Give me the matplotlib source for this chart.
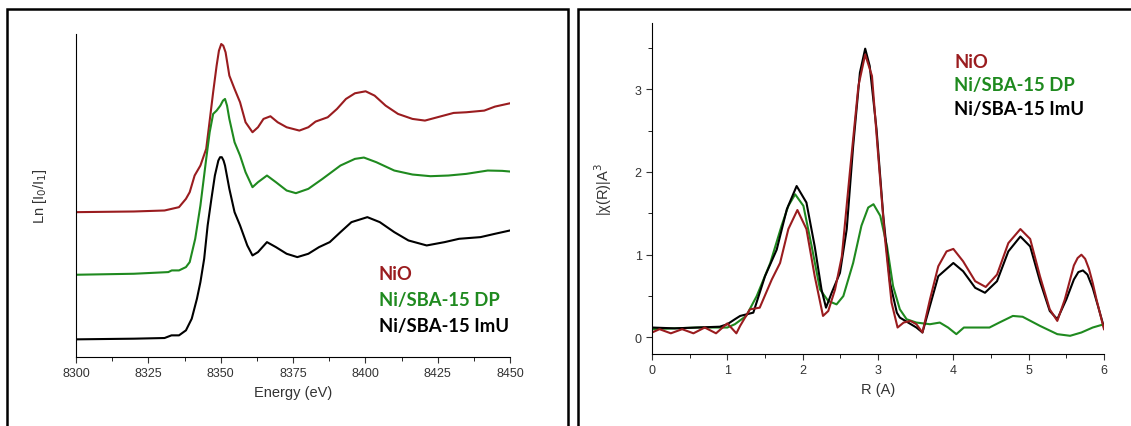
import matplotlib.pyplot as plt
from matplotlib.patches import Rectangle
from matplotlib.ticker import MultipleLocator

# XANES (left panel), arbitrary units
e_nio = [8300, 8320, 8330.6, 8335.6, 8338, 8339.3, 8341, 8343, 8345, 8346, 8347.4,
         8348.6, 8349.4, 8350.2, 8350.9, 8351.7, 8353, 8354.8, 8356.7, 8358.6, 8361,
         8362.9, 8364.8, 8367.2, 8369.7, 8372.8, 8377.2, 8380.3, 8382.8, 8387, 8390.2,
         8393.3, 8396.4, 8400.1, 8403.2, 8407, 8411.3, 8416.3, 8420.6, 8424.9, 8430.5,
         8434.9, 8441.1, 8444.8, 8450]
mu_nio = [4.35, 4.37, 4.40, 4.50, 4.75, 4.95, 5.45, 5.75, 6.25, 6.95, 7.95,
          8.75, 9.20, 9.40, 9.35, 9.15, 8.45, 8.05, 7.65, 7.05, 6.75,
          6.90, 7.15, 7.23, 7.05, 6.90, 6.80, 6.90, 7.07, 7.20, 7.45,
          7.75, 7.92, 7.98, 7.85, 7.55, 7.30, 7.15, 7.10, 7.20, 7.33,
          7.35, 7.40, 7.52, 7.62]

e_dp = [8300, 8320, 8331.9, 8333.1, 8335.6, 8338, 8339.3, 8341.2, 8343, 8345, 8346.2,
        8347.4, 8348.6, 8349.9, 8350.8, 8351.5, 8352.2, 8353, 8354.8, 8356.7, 8358.6,
        8361, 8362.9, 8366, 8369.1, 8372.8, 8376, 8380.3, 8385.2, 8391.4, 8396.4,
        8399.5, 8403.8, 8410, 8416.3, 8422.5, 8428.7, 8434.9, 8442.3, 8447.3, 8450]
mu_dp = [2.47, 2.50, 2.55, 2.60, 2.60, 2.70, 2.85, 3.55, 4.55, 5.95, 6.75,
         7.30, 7.40, 7.55, 7.70, 7.75, 7.55, 7.15, 6.45, 6.05, 5.55,
         5.10, 5.25, 5.45, 5.25, 5.00, 4.92, 5.05, 5.35, 5.75, 5.95,
         5.99, 5.85, 5.60, 5.48, 5.43, 5.45, 5.50, 5.60, 5.59, 5.57]

e_imu = [8300, 8320, 8330.6, 8333, 8335.6, 8338, 8340, 8341.8, 8343, 8344.3, 8345.5,
         8346.8, 8348, 8349.2, 8349.8, 8350.4, 8351, 8351.5, 8353, 8354.8, 8356.7,
         8359.2, 8361, 8362.9, 8366, 8369.1, 8372.8, 8376.5, 8380.3, 8384, 8387.7,
         8391.4, 8395.2, 8400.7, 8405, 8410, 8414.9, 8421.2, 8427.4, 8432.4, 8439.8,
         8444.8, 8450]
mu_imu = [0.53, 0.55, 0.57, 0.65, 0.65, 0.80, 1.15, 1.75, 2.25, 2.95, 3.95,
          4.75, 5.45, 5.90, 6.00, 6.00, 5.90, 5.75, 5.05, 4.35, 3.95,
          3.35, 3.05, 3.15, 3.45, 3.30, 3.10, 3.00, 3.10, 3.30, 3.45,
          3.75, 4.05, 4.20, 4.05, 3.75, 3.50, 3.35, 3.45, 3.55, 3.60,
          3.70, 3.80]

# Fourier transform (right panel)
r_nio = [0, 0.1, 0.25, 0.4, 0.55, 0.7, 0.85, 1.0, 1.12, 1.17, 1.30, 1.43, 1.59,
         1.70, 1.81, 1.93, 2.05, 2.16, 2.27, 2.34, 2.43, 2.52, 2.63, 2.74, 2.83,
         2.92, 3.00, 3.09, 3.18, 3.26, 3.34, 3.43, 3.51, 3.59, 3.69, 3.80, 3.91,
         4.00, 4.13, 4.29, 4.43, 4.58, 4.73, 4.89, 5.02, 5.15, 5.28, 5.38, 5.48,
         5.6, 5.65, 5.7, 5.75, 5.8, 5.85, 5.9, 5.95, 6.0]
ft_nio = [0.06, 0.10, 0.05, 0.10, 0.05, 0.12, 0.05, 0.17, 0.05, 0.14, 0.34, 0.36,
          0.70, 0.90, 1.31, 1.54, 1.31, 0.74, 0.26, 0.32, 0.58, 0.98, 2.03, 3.04,
          3.42, 3.16, 2.23, 1.22, 0.42, 0.12, 0.18, 0.20, 0.16, 0.06, 0.46, 0.86,
          1.04, 1.07, 0.92, 0.68, 0.61, 0.76, 1.14, 1.31, 1.19, 0.74, 0.34, 0.20,
          0.46, 0.87, 0.96, 1.00, 0.95, 0.83, 0.66, 0.46, 0.28, 0.10]

r_imu = [0, 0.3, 0.6, 0.9, 1.0, 1.1, 1.17, 1.345, 1.50, 1.655, 1.79, 1.92, 2.05,
         2.16, 2.25, 2.31, 2.385, 2.495, 2.585, 2.67, 2.76, 2.83, 2.89, 2.98, 3.07,
         3.16, 3.25, 3.29, 3.40, 3.51, 3.59, 3.80, 4.00, 4.13, 4.29, 4.42, 4.58,
         4.73, 4.89, 5.02, 5.15, 5.28, 5.38, 5.5, 5.6, 5.66, 5.72, 5.78, 5.85,
         5.92, 6.0]
ft_imu = [0.12, 0.11, 0.12, 0.13, 0.16, 0.22, 0.26, 0.30, 0.74, 1.06, 1.55, 1.83,
          1.63, 1.10, 0.58, 0.36, 0.54, 0.78, 1.31, 2.31, 3.20, 3.49, 3.28, 2.52,
          1.47, 0.66, 0.30, 0.24, 0.18, 0.12, 0.06, 0.74, 0.90, 0.80, 0.60, 0.54,
          0.68, 1.04, 1.22, 1.10, 0.68, 0.32, 0.22, 0.46, 0.70, 0.79, 0.81, 0.76,
          0.60, 0.38, 0.12]

r_dp = [0, 0.3, 0.6, 1.0, 1.1, 1.25, 1.39, 1.57, 1.72, 1.81, 1.90, 2.01, 2.12,
        2.23, 2.34, 2.45, 2.54, 2.67, 2.78, 2.87, 2.94, 3.03, 3.12, 3.20, 3.29,
        3.38, 3.51, 3.69, 3.82, 3.93, 4.04, 4.14, 4.30, 4.48, 4.61, 4.79, 4.92,
        5.15, 5.38, 5.55, 5.7, 5.85, 6.0]
ft_dp = [0.10, 0.11, 0.12, 0.12, 0.16, 0.26, 0.50, 0.90, 1.35, 1.59, 1.73, 1.59,
         1.10, 0.58, 0.44, 0.40, 0.50, 0.90, 1.35, 1.57, 1.61, 1.47, 1.10, 0.62,
         0.34, 0.22, 0.18, 0.16, 0.18, 0.12, 0.04, 0.12, 0.12, 0.12, 0.18, 0.26,
         0.25, 0.14, 0.04, 0.02, 0.06, 0.12, 0.16]

labels = ['NiO', 'Ni/SBA-15 DP', 'Ni/SBA-15 ImU']
colors = ['#9a1c1f', '#1f8a1f', '#000000']

plt.rcParams['font.family'] = ['Liberation Sans', 'DejaVu Sans']

fig = plt.figure(figsize=(11.31, 4.27), dpi=100)

# panel frames
fig.patches.append(Rectangle((7 / 1131, -0.1), (568 - 7) / 1131, 1.1 - 10 / 427,
                             transform=fig.transFigure, fill=False,
                             edgecolor='black', linewidth=1.8))
fig.patches.append(Rectangle((578 / 1131, -0.1), 0.6, 1.1 - 10 / 427,
                             transform=fig.transFigure, fill=False,
                             edgecolor='black', linewidth=1.8))

ax1 = fig.add_axes([76 / 1131, 0.1616, 434 / 1131, 0.7564])
ax1.plot(e_nio, mu_nio, color=colors[0], lw=1.5)
ax1.plot(e_dp, mu_dp, color=colors[1], lw=1.5)
ax1.plot(e_imu, mu_imu, color=colors[2], lw=1.5)
ax1.set_xlim(8300, 8450)
ax1.set_ylim(0, 9.7)
ax1.spines['top'].set_visible(False)
ax1.spines['right'].set_visible(False)
ax1.set_yticks([])
ax1.xaxis.set_major_locator(MultipleLocator(25))
ax1.xaxis.set_minor_locator(MultipleLocator(12.5))
ax1.tick_params(axis='x', which='major', length=4, labelsize=9, colors='#333333')
ax1.tick_params(axis='x', which='minor', length=3)
ax1.set_xlabel('Energy (eV)', fontsize=10.5, color='#333333')
ax1.set_ylabel('Ln [I$_0$/I$_1$]', fontsize=10.5, color='#333333')
ax1.yaxis.set_label_coords(-0.062, 0.5)
for i, (lab, c) in enumerate(zip(labels, colors)):
    ax1.text(379 / 1131, (427 - 275 - 26 * i) / 427, lab, color=c,
             transform=fig.transFigure, fontsize=13.3, fontweight='bold',
             family=['Lato', 'DejaVu Sans'], va='center')

ax2 = fig.add_axes([652 / 1131, 0.1686, 452 / 1131, 0.7752])
ax2.plot(r_dp, ft_dp, color=colors[1], lw=1.5)
ax2.plot(r_imu, ft_imu, color=colors[2], lw=1.5)
ax2.plot(r_nio, ft_nio, color=colors[0], lw=1.5)
ax2.set_xlim(0, 6)
ax2.set_ylim(-0.2, 3.8)
ax2.spines['top'].set_visible(False)
ax2.spines['right'].set_visible(False)
ax2.xaxis.set_major_locator(MultipleLocator(1))
ax2.xaxis.set_minor_locator(MultipleLocator(0.5))
ax2.yaxis.set_major_locator(MultipleLocator(1))
ax2.yaxis.set_minor_locator(MultipleLocator(0.5))
ax2.tick_params(which='major', length=4, labelsize=9, colors='#333333')
ax2.tick_params(which='minor', length=3)
ax2.set_xlabel('R (A)', fontsize=10.5, color='#333333')
ax2.set_ylabel('|χ(R)|A$^3$', fontsize=10.5, color='#333333')
ax2.yaxis.set_label_coords(-0.084, 0.5)
for i, (lab, c) in enumerate(zip(labels, colors)):
    ax2.text(954 / 1131, (427 - 62 - 24 * i) / 427, lab, color=c,
             transform=fig.transFigure, fontsize=13.3, fontweight='bold',
             family=['Lato', 'DejaVu Sans'], va='center')

fig.savefig('out.png', dpi=100)
